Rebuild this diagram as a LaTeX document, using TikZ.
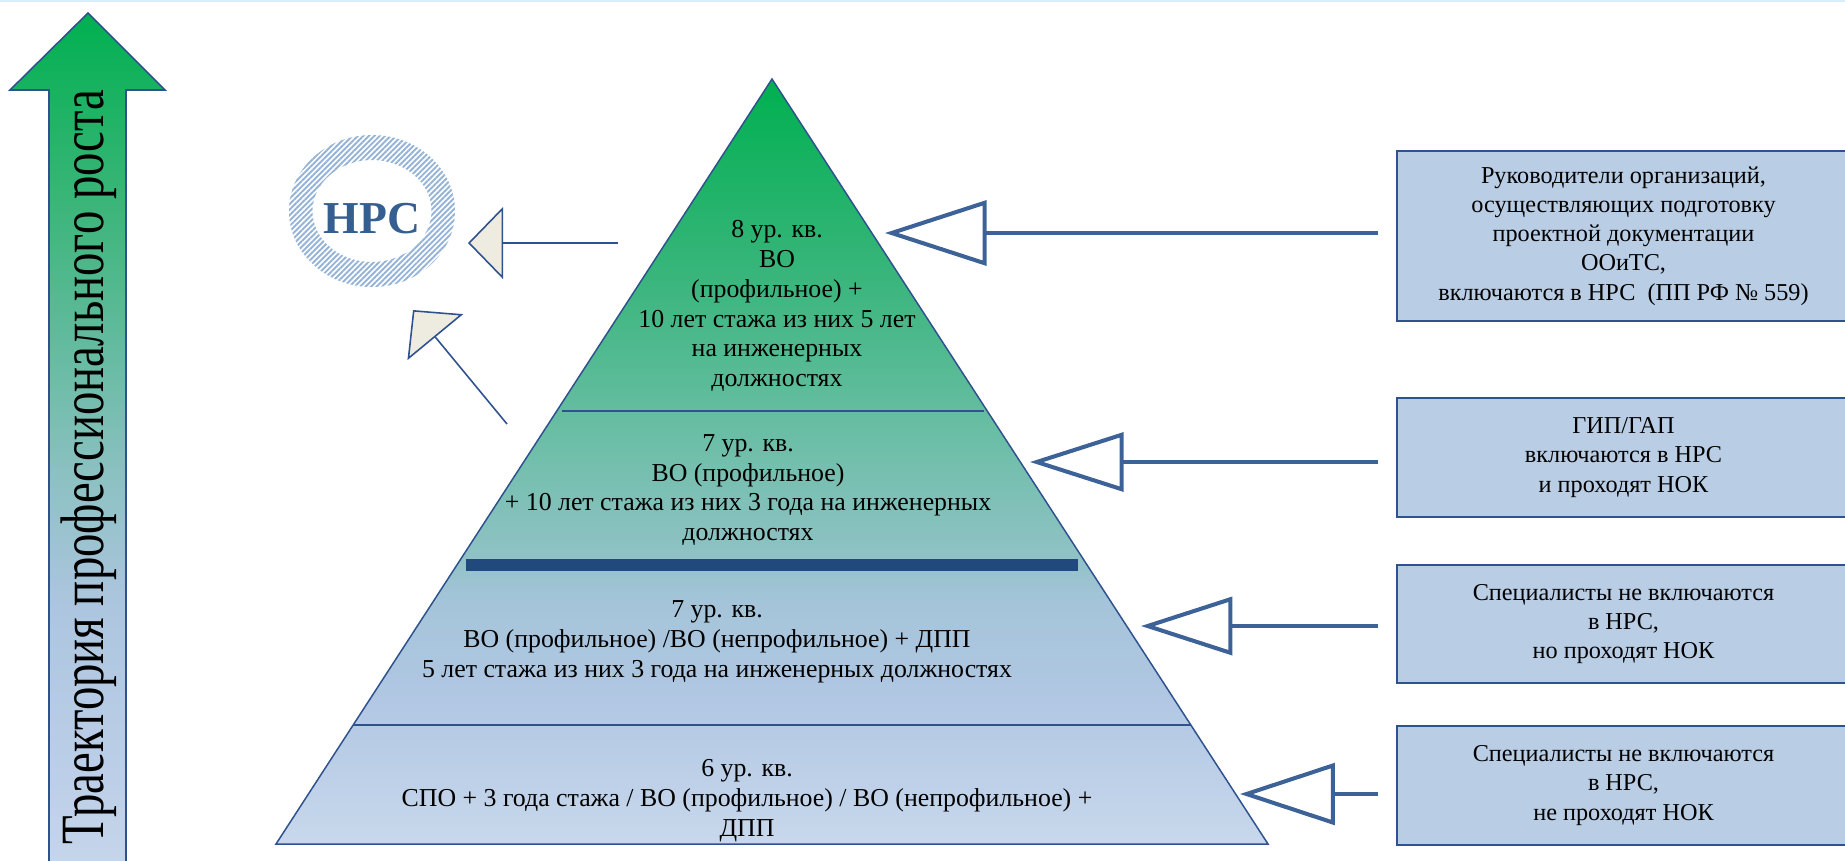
\documentclass[tikz,border=0pt]{standalone}
\usepackage{fontspec}
\setmainfont{Liberation Serif}
\usepackage{xcolor}
\usetikzlibrary{arrows.meta,patterns.meta,positioning}

\definecolor{edgeblue}{RGB}{47,82,143}
\definecolor{arrblue}{RGB}{60,98,152}
\definecolor{barblue}{RGB}{33,73,126}
\definecolor{boxfill}{RGB}{185,205,229}
\definecolor{hatchblue}{RGB}{149,179,215}
\definecolor{nrsblue}{RGB}{54,95,145}
\definecolor{tipfill}{RGB}{238,236,225}
\definecolor{framecol}{RGB}{218,238,250}
% pyramid colours, bottom to top
\definecolor{pyrA}{RGB}{200,216,236}
\definecolor{pyrB}{RGB}{177,199,227}
\definecolor{pyrC}{RGB}{164,196,217}
\definecolor{pyrD}{RGB}{145,194,198}
\definecolor{pyrE}{RGB}{100,189,160}
\definecolor{pyrF}{RGB}{55,181,122}
\definecolor{pyrG}{RGB}{0,176,80}
% arrow colours, bottom to top
\definecolor{arwA}{RGB}{197,213,234}
\definecolor{arwB}{RGB}{186,205,231}
\definecolor{arwC}{RGB}{172,197,222}
\definecolor{arwD}{RGB}{141,193,195}
\definecolor{arwE}{RGB}{95,186,155}
\definecolor{arwF}{RGB}{58,181,120}
\definecolor{arwG}{RGB}{0,176,80}

\pgfdeclareverticalshading{pyrshade}{100bp}{color(0bp)=(pyrA); color(25bp)=(pyrA); color(34.4bp)=(pyrB); color(41bp)=(pyrC); color(43.6bp)=(pyrD); color(53.2bp)=(pyrE); color(62.5bp)=(pyrF); color(75bp)=(pyrG); color(100bp)=(pyrG)}
\pgfdeclareverticalshading{arwshade}{100bp}{color(0bp)=(arwA); color(25bp)=(arwA); color(31.6bp)=(arwB); color(40.4bp)=(arwC); color(47.5bp)=(arwD); color(56.3bp)=(arwE); color(64bp)=(arwF); color(75bp)=(arwG); color(100bp)=(arwG)}

\begin{document}
\begin{tikzpicture}[x=0.02cm, y=-0.02cm,
	pyrtext/.style={font=\fontsize{14.7}{17}\selectfont, align=center},
	boxtext/.style={font=\fontsize{13.8}{16.6}\selectfont, align=center},
	infobox/.style={boxtext, draw=edgeblue, line width=1.1pt, fill=boxfill, minimum width=9.06cm, minimum height=#1, inner sep=0pt},
	tierline/.style={draw=edgeblue, line width=1.1pt},
	rarr/.style 2 args={draw=arrblue, line width=2.3pt, -{Triangle[open, length=#1, width=#2]}},
	harr/.style={draw=edgeblue, line width=0.9pt, -{Triangle[length=20pt, width=41pt, fill=tipfill]}}]
	\useasboundingbox (0,0) rectangle (1845,860);
	\draw [framecol, line width=1pt] (0,1) -- (1845,1);

	% career arrow
	\shadedraw [shading=arwshade, draw=edgeblue, line width=0.9pt] (49,862) -- (49,90) -- (10,90) -- (88,13) -- (165,90) -- (126,90) -- (126,862);
	\node [font=\fontsize{35}{40}\selectfont, rotate=90, anchor=base] (traj) at (103,467) {\resizebox{15.1cm}{\height}{Траектория профессионального роста}};

	% pyramid
	\shadedraw [shading=pyrshade, draw=edgeblue, line width=0.85pt] (772,79) -- (1268,844) -- (276,844) -- cycle;
	\draw [tierline] (562,411) -- (984,411);
	\fill [barblue] (466,559) rectangle (1078,571);
	\draw [tierline] (353,725) -- (1191,725);
	\node [pyrtext] (lvl8) at (777,306) {8 ур. кв.\\ВО\\(профильное) +\\10 лет стажа из них 5 лет\\на инженерных\\должностях};
	\node [pyrtext] (lvl7a) at (748,490) {7 ур. кв.\\ВО (профильное)\\+ 10 лет стажа из них 3 года на инженерных\\должностях};
	\node [pyrtext] (lvl7b) at (717,642) {7 ур. кв.\\ВО (профильное) /ВО (непрофильное) + ДПП\\5 лет стажа из них 3 года на инженерных должностях};
	\node [pyrtext] (lvl6) at (747,801) {6 ур. кв.\\СПО + 3 года стажа / ВО (профильное) / ВО (непрофильное) +\\ДПП};

	% register ring
	\fill [pattern={Lines[angle=45, distance=2.2pt, line width=1.1pt]}, pattern color=hatchblue, even odd rule] (372,211) ellipse (83 and 76) (372,211) ellipse (59.5 and 51);
	\node [font=\fontsize{26}{30}\selectfont\bfseries, text=nrsblue] (nrs) at (372,219) {НРС};
	\coordinate (hA) at (618,243);
	\coordinate (tA) at (468,243);
	\coordinate (hB) at (507,424);
	\coordinate (tB) at (413,310);
	\draw [harr] (hA) -- (tA);
	\draw [harr] (hB) -- (tB);

	% boxes on the right
	\node [infobox=3.4cm] (ruk) at (1623.5,236) {Руководители организаций,\\осуществляющих подготовку\\проектной документации\\ООиТС,\\включаются в НРС\ \ (ПП РФ № 559)};
	\node [infobox=2.38cm] (gip) at (1623.5,457.5) {ГИП/ГАП\\включаются в НРС\\и проходят НОК};
	\node [infobox=2.36cm] (spec7) at (1623.5,624) {Специалисты не включаются\\в НРС,\\но проходят НОК};
	\node [infobox=2.38cm] (spec6) at (1623.5,785.5) {Специалисты не включаются\\в НРС,\\не проходят НОК};
	\coordinate (t1) at (885,233);
	\coordinate (t2) at (1030,462);
	\coordinate (t3) at (1141,626);
	\coordinate (t4) at (1240,794);
	\draw [rarr={57.8pt}{36.9pt}] (t1 -| ruk.west) ++(-18,0) -- (t1);
	\draw [rarr={53.3pt}{33.5pt}] (t2 -| gip.west) ++(-18,0) -- (t2);
	\draw [rarr={52pt}{33pt}] (t3 -| spec7.west) ++(-18,0) -- (t3);
	\draw [rarr={54pt}{35pt}] (t4 -| spec6.west) ++(-18,0) -- (t4);
\end{tikzpicture}
\end{document}
